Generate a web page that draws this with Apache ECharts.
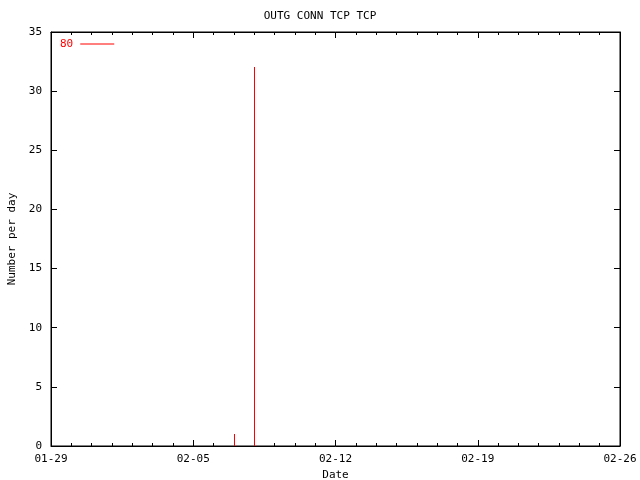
<!DOCTYPE html>
<html>
<head>
<meta charset="utf-8">
<script src="https://cdn.jsdelivr.net/npm/echarts@6/dist/echarts.min.js"></script>
<style>html,body{margin:0;padding:0;background:#fff}#c{width:640px;height:480px}</style>
</head>
<body>
<div id="c"></div>
<script>
var titleText = 'OUTG CONN TCP TCP';
var seriesName = '80';
var tickLabels = ['01-29', '02-05', '02-12', '02-19', '02-26'];
// day offset from 01-29
var days =   [3, 4, 6, 9, 10, 15, 16, 17, 18, 19, 20, 21, 22, 23, 24, 25, 26];
var values = [0, 0, 0, 1, 32, 0,  0,  0,  0,  0,  0,  0,  0,  0,  0,  0,  0];
var yMax = 35, yStep = 5, xMax = 28, xStep = 7;

var font = 'DejaVu Sans Mono';
var chart = echarts.init(document.getElementById('c'), null, {renderer: 'canvas'});
var data = days.map(function (d, i) { return [d, values[i]]; });
var axisLine = {show: true, onZero: false, lineStyle: {color: '#000', width: 1}};
function tick() { return {show: true, inside: true, length: 6, lineStyle: {color: '#000', width: 1}}; }
function minor() { return {show: true, splitNumber: 7, length: 3, lineStyle: {color: '#000', width: 1}}; }
chart.setOption({
  animation: false,
  backgroundColor: '#fff',
  title: {text: titleText, left: 'center', top: 6,
    textStyle: {fontFamily: font, fontSize: 11, fontWeight: 'normal', color: '#000'}},
  legend: {data: [seriesName], left: 55, top: 33.5, icon: 'rect', itemWidth: 34, itemHeight: 1,
    align: 'right', itemGap: 0, itemStyle: {color: '#ff0000'},
    textStyle: {fontFamily: font, fontSize: 11, color: '#ff0000', padding: [0, 2, 0, 0]}},
  grid: {left: 51, right: 20, top: 32, bottom: 34, containLabel: false, outerBoundsMode: 'none',
    show: true, borderColor: '#000', borderWidth: 1, backgroundColor: 'transparent'},
  xAxis: [{
    type: 'value', min: 0, max: xMax, interval: xStep, position: 'bottom',
    name: 'Date', nameLocation: 'middle', nameGap: 23,
    nameTextStyle: {fontFamily: font, fontSize: 11, color: '#000'},
    axisLine: axisLine, axisTick: tick(), minorTick: minor(),
    axisLabel: {fontFamily: font, fontSize: 11, color: '#000', margin: 8,
      formatter: function (v) { return tickLabels[Math.round(v / xStep)]; }},
    splitLine: {show: false}
  }, {
    type: 'value', min: 0, max: xMax, interval: xStep, position: 'top',
    axisLine: axisLine, axisTick: tick(), minorTick: minor(),
    axisLabel: {show: false}, splitLine: {show: false}
  }],
  yAxis: [{
    type: 'value', min: 0, max: yMax, interval: yStep, position: 'left',
    name: 'Number per day', nameLocation: 'middle', nameGap: 32, nameRotate: 90,
    nameTextStyle: {fontFamily: font, fontSize: 11, color: '#000'},
    axisLine: axisLine, axisTick: tick(),
    axisLabel: {fontFamily: font, fontSize: 11, color: '#000', margin: 9},
    splitLine: {show: false}
  }, {
    type: 'value', min: 0, max: yMax, interval: yStep, position: 'right',
    axisLine: axisLine, axisTick: tick(),
    axisLabel: {show: false}, splitLine: {show: false}
  }],
  series: [{
    name: seriesName, type: 'custom', xAxisIndex: 0, yAxisIndex: 0,
    itemStyle: {color: '#ff0000'},
    data: data,
    renderItem: function (params, api) {
      var top = api.coord([api.value(0), api.value(1)]);
      var base = api.coord([api.value(0), 0]);
      var x = Math.round(top[0]) + 0.5;
      return {type: 'line', shape: {x1: x, y1: Math.round(base[1]), x2: x, y2: Math.round(top[1])},
        style: {stroke: '#ff0000', lineWidth: 1}};
    }
  }, {
    name: '_top', type: 'line', xAxisIndex: 1, yAxisIndex: 1, data: [], silent: true
  }]
});
</script>
</body>
</html>
